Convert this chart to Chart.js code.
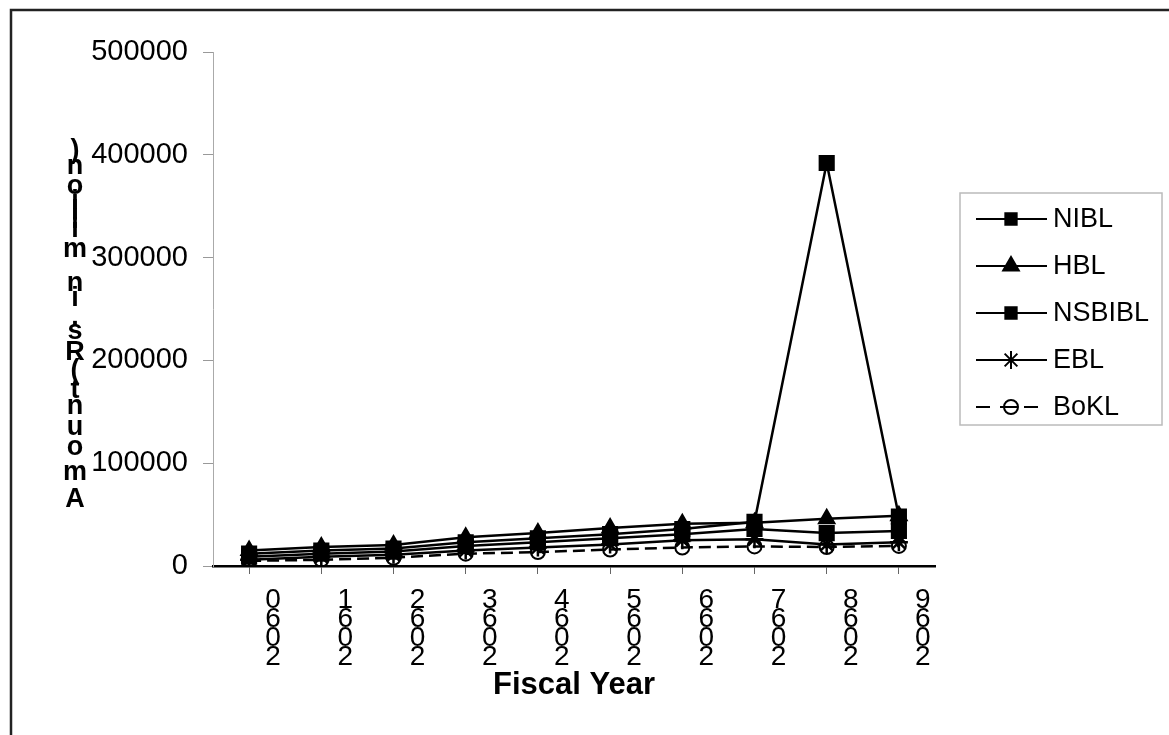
<!DOCTYPE html>
<html lang="en">
<head>
  <meta charset="UTF-8" />
  <title>Amount by Fiscal Year</title>
  <style>
    body {
      margin: 0;
      background: #fff;
    }

    #wrap {
      width: 1169px;
      height: 735px;
      position: relative;
    }
  </style>
</head>
<body>

<div id="wrap">
  <canvas id="amountChart" width="1169" height="735"></canvas>
</div>

<script src="https://cdn.jsdelivr.net/npm/chart.js"></script>

<script>
  // data (Rs. in million)
  const years = ['2060', '2061', '2062', '2063', '2064', '2065', '2066', '2067', '2068', '2069'];
  const nibl   = [12000, 15000, 17000, 23000, 27000, 31000, 36000, 43000, 392000, 48000];
  const hbl    = [15000, 18500, 20500, 28000, 32000, 37000, 41000, 42000, 46000, 49000];
  const nsbibl = [9000, 12000, 14000, 19500, 23000, 27000, 31000, 36000, 32000, 34000];
  const ebl    = [6000, 9000, 11000, 15000, 18000, 21000, 25000, 26000, 21000, 23000];
  const bokl   = [5000, 6000, 8000, 12000, 13500, 16000, 18000, 19000, 18500, 19500];
  const yTicks = [0, 100000, 200000, 300000, 400000, 500000];

  const yTitle = 'Amount (Rs. in million)';
  const xTitle = 'Fiscal Year';
  const FONT = '"Liberation Sans", Arial, sans-serif';

  function series(label, data, style, radius, dash) {
    return {
      label: label,
      data: data,
      borderColor: '#000',
      borderWidth: 2.5,
      borderDash: dash || [],
      pointStyle: style,
      pointRadius: radius,
      pointHoverRadius: radius,
      pointBackgroundColor: style === 'circle' ? 'rgba(0,0,0,0)' : '#000',
      pointBorderColor: '#000',
      pointBorderWidth: style === 'star' ? 2.5 : 2,
      tension: 0,
      fill: false
    };
  }

  // frame, stacked y title and boxed legend
  const decorations = {
    id: 'decorations',
    beforeDraw(chart) {
      const ctx = chart.ctx;
      ctx.save();
      ctx.fillStyle = '#fff';
      ctx.fillRect(0, 0, chart.width, chart.height);
      ctx.strokeStyle = '#222';
      ctx.lineWidth = 2.5;
      ctx.beginPath();
      ctx.moveTo(1169, 10);
      ctx.lineTo(11, 10);
      ctx.lineTo(11, 735);
      ctx.stroke();
      ctx.restore();
    },
    afterDraw(chart) {
      const ctx = chart.ctx;
      ctx.save();

      // y title: upright glyphs stacked bottom to top
      ctx.font = 'bold 27px ' + FONT;
      ctx.fillStyle = '#000';
      ctx.textAlign = 'center';
      ctx.textBaseline = 'middle';
      const chars = yTitle.split('');
      const adv = chars.map(c => ctx.measureText(c).width);
      const total = adv.reduce((a, b) => a + b, 0);
      const k = (512 - 145) / total;
      let y = 512;
      chars.forEach((c, i) => {
        const h = adv[i] * k;
        ctx.fillText(c, 75, y - h / 2);
        y -= h;
      });

      // legend box
      ctx.strokeStyle = '#bbb';
      ctx.lineWidth = 1.5;
      ctx.strokeRect(960, 193, 202, 232);
      ctx.font = '27px ' + FONT;
      ctx.textAlign = 'left';
      chart.data.datasets.forEach((ds, i) => {
        const ly = 219 + i * 47;
        ctx.strokeStyle = '#000';
        ctx.lineWidth = 2;
        ctx.setLineDash(ds.borderDash.length ? [14, 10] : []);
        ctx.beginPath();
        ctx.moveTo(976, ly);
        ctx.lineTo(1047, ly);
        ctx.stroke();
        ctx.setLineDash([]);
        ctx.fillStyle = ds.pointStyle === 'circle' ? '#fff' : '#000';
        ctx.strokeStyle = '#000';
        Chart.helpers.drawPoint(ctx, {
          pointStyle: ds.pointStyle,
          radius: ds.pointStyle === 'rect' ? 8 : ds.pointRadius,
          rotation: 0,
          borderWidth: ds.pointBorderWidth
        }, 1011, ly);
        if (ds.pointStyle === 'circle') {
          ctx.beginPath();
          ctx.moveTo(1004, ly);
          ctx.lineTo(1018, ly);
          ctx.stroke();
        }
        ctx.fillStyle = '#000';
        ctx.fillText(ds.label, 1053, ly + 1);
      });
      ctx.restore();
    }
  };

  const ctx = document.getElementById('amountChart').getContext('2d');
  new Chart(ctx, {
    type: 'line',
    data: {
      labels: years,
      datasets: [
        series('NIBL', nibl, 'rect', 10),
        series('HBL', hbl, 'triangle', 9),
        series('NSBIBL', nsbibl, 'rect', 10),
        series('EBL', ebl, 'star', 9),
        series('BoKL', bokl, 'circle', 7, [12, 6])
      ]
    },
    options: {
      responsive: false,
      animation: false,
      layout: {
        padding: { top: 52, right: 234, left: 0, bottom: 0 }
      },
      plugins: {
        legend: { display: false },
        tooltip: { enabled: false }
      },
      scales: {
        x: {
          offset: true,
          afterFit: (scale) => { scale.height = 169; },
          border: { color: '#000', width: 2.5 },
          grid: {
            drawOnChartArea: false,
            drawTicks: true,
            tickLength: 8,
            color: '#666'
          },
          ticks: {
            autoSkip: false,
            maxRotation: 0,
            minRotation: 0,
            labelOffset: 24,
            padding: 17,
            color: '#000',
            font: { family: FONT, size: 28, lineHeight: 0.68 },
            callback: function (value) {
              return this.getLabelForValue(value).split('').reverse();
            }
          },
          title: {
            display: true,
            text: xTitle,
            color: '#000',
            font: { family: FONT, size: 31, weight: 'bold' },
            padding: { top: 0, bottom: 31 }
          }
        },
        y: {
          min: 0,
          max: 500000,
          afterFit: (scale) => { scale.width = 213; },
          afterBuildTicks: (scale) => {
            scale.ticks = yTicks.map(v => ({ value: v }));
          },
          border: { color: '#aaa', width: 1 },
          grid: {
            drawOnChartArea: false,
            drawTicks: true,
            tickLength: 10,
            color: '#999'
          },
          ticks: {
            padding: 15,
            color: '#000',
            font: { family: FONT, size: 29 },
            callback: (value) => String(value)
          }
        }
      }
    },
    plugins: [decorations]
  });
</script>

</body>
</html>
